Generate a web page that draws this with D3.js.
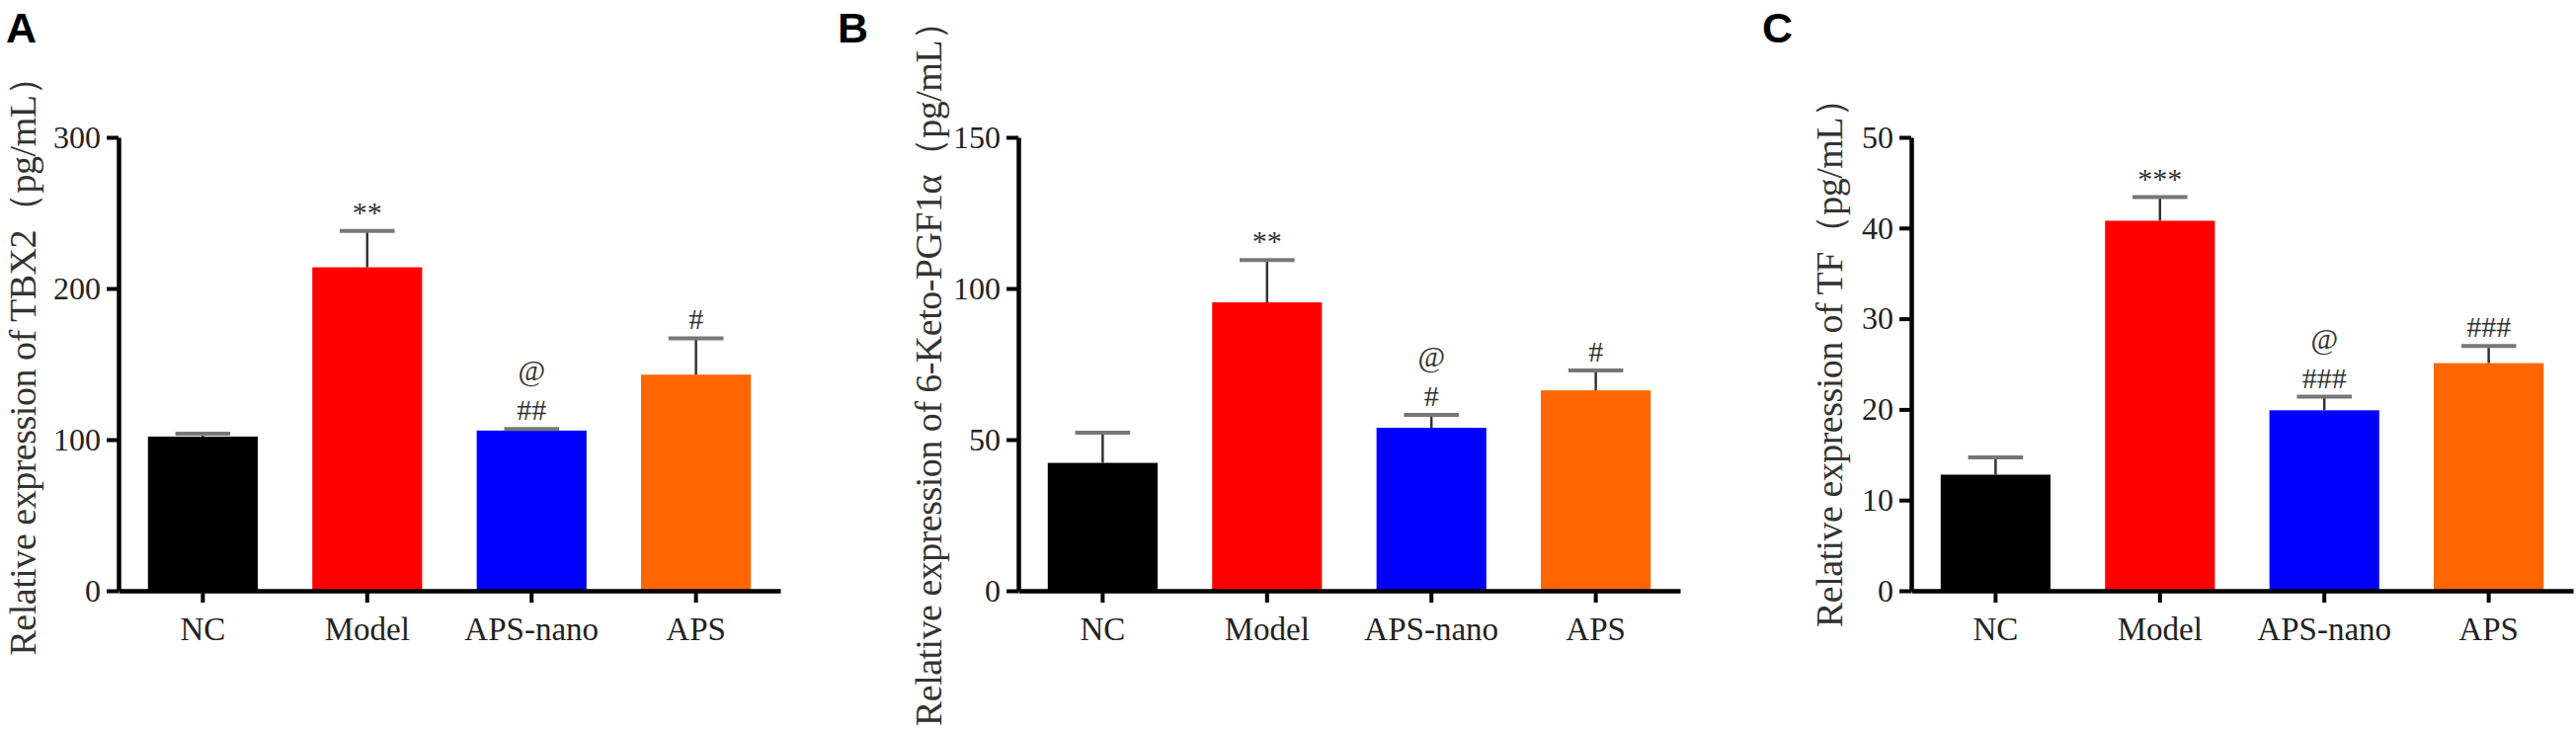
<!DOCTYPE html>
<html><head><meta charset="utf-8">
<script src="https://cdn.jsdelivr.net/npm/d3@7"></script>
<style>body{margin:0;background:#fff;overflow:hidden}</style>
</head><body>
<svg id="chart" width="2608" height="742" xmlns="http://www.w3.org/2000/svg"></svg>
<script>
// ---- data ----
const categories = ["NC", "Model", "APS-nano", "APS"];

const tbx2Mean = [102, 214, 106, 143];
const tbx2Err  = [2, 24, 1, 24];
const tbx2Ticks = [0, 100, 200, 300];
const tbx2Marks = [[], ["**"], ["@", "##"], ["#"]];

const ketoMean = [42.3, 95.4, 53.9, 66.3];
const ketoErr  = [10, 14, 4.3, 6.6];
const ketoTicks = [0, 50, 100, 150];
const ketoMarks = [[], ["**"], ["@", "#"], ["#"]];

const tfMean = [12.8, 40.8, 19.9, 25.1];
const tfErr  = [1.9, 2.6, 1.5, 1.9];
const tfTicks = [0, 10, 20, 30, 40, 50];
const tfMarks = [[], ["***"], ["@", "###"], ["###"]];

const panelLetters = ["A", "B", "C"];
const titles = [
  "Relative expression of TBX2（pg/mL）",
  "Relative expression of 6-Keto-PGF1α（pg/mL）",
  "Relative expression of TF（pg/mL）"
];

// ---- style / layout ----
const barColors = ["#000000", "#ff0000", "#0000ff", "#ff6600"];
const serif = "'Liberation Serif','Times New Roman',serif";
const panels = [
  {mean: tbx2Mean, err: tbx2Err, ticks: tbx2Ticks, marks: tbx2Marks, axisX: 120,  letterX: 6,    titleX: 36,   titleY: 361, titleLen: 605},
  {mean: ketoMean, err: ketoErr, ticks: ketoTicks, marks: ketoMarks, axisX: 1031, letterX: 848,  titleX: 953,  titleY: 369, titleLen: 732},
  {mean: tfMean,   err: tfErr,   ticks: tfTicks,   marks: tfMarks,   axisX: 1935, letterX: 1784, titleX: 1865, titleY: 358, titleLen: 554}
];
const y0px = 598, y1px = 139, axisW = 670;

const svg = d3.select("#chart");

panels.forEach((p, pi) => {
  const g = svg.append("g");
  const yMax = p.ticks[p.ticks.length - 1];
  const y = d3.scaleLinear().domain([0, yMax]).range([y0px, y1px]);
  const x = d3.scaleBand().domain(categories)
    .range([p.axisX, p.axisX + axisW]).paddingInner(0.332).paddingOuter(0.179);

  // bars
  g.selectAll("rect.bar").data(categories).join("rect")
    .attr("class", "bar")
    .attr("x", d => x(d))
    .attr("width", x.bandwidth())
    .attr("y", (d, i) => y(p.mean[i]))
    .attr("height", (d, i) => y(0) - y(p.mean[i]))
    .attr("fill", (d, i) => barColors[i]);

  // error bars
  const eb = g.selectAll("g.eb").data(categories).join("g").attr("class", "eb");
  eb.append("line")
    .attr("x1", d => x(d) + x.bandwidth() / 2)
    .attr("x2", d => x(d) + x.bandwidth() / 2)
    .attr("y1", (d, i) => y(p.mean[i]))
    .attr("y2", (d, i) => y(p.mean[i] + p.err[i]))
    .attr("stroke", "#333").attr("stroke-width", 2.5);
  eb.append("line")
    .attr("x1", d => x(d) + x.bandwidth() / 4)
    .attr("x2", d => x(d) + x.bandwidth() * 3 / 4)
    .attr("y1", (d, i) => y(p.mean[i] + p.err[i]))
    .attr("y2", (d, i) => y(p.mean[i] + p.err[i]))
    .attr("stroke", "#777").attr("stroke-width", 4);

  // significance marks
  categories.forEach((c, i) => {
    const lines = p.marks[i];
    const base = y(p.mean[i] + p.err[i]) - 9;
    lines.forEach((t, li) => {
      g.append("text")
        .attr("x", x(c) + x.bandwidth() / 2)
        .attr("y", base - (lines.length - 1 - li) * 40)
        .attr("text-anchor", "middle")
        .attr("font-family", serif)
        .attr("font-size", 30)
        .attr("fill", "#333")
        .text(t);
    });
  });

  // y axis
  const ya = g.append("g").attr("transform", `translate(${p.axisX},0)`)
    .call(d3.axisLeft(y).tickValues(p.ticks).tickSize(12).tickSizeOuter(0).tickPadding(6));
  ya.select(".domain").attr("stroke", "#000").attr("stroke-width", 4.5);
  ya.selectAll(".tick line").attr("stroke", "#000").attr("stroke-width", 4);
  ya.selectAll(".tick text").attr("font-family", serif).attr("font-size", 32).attr("fill", "#222");

  // x axis
  const xa = g.append("g").attr("transform", `translate(0,${y0px})`)
    .call(d3.axisBottom(x).tickSize(12).tickSizeOuter(0));
  xa.select(".domain").attr("stroke", "#000").attr("stroke-width", 4.5);
  xa.selectAll(".tick line").attr("stroke", "#000").attr("stroke-width", 4);
  xa.selectAll(".tick text").attr("font-family", serif).attr("font-size", 33).attr("fill", "#222")
    .attr("y", 50).attr("dy", 0);

  // y title
  g.append("text")
    .attr("transform", `translate(${p.titleX},${p.titleY}) rotate(-90)`)
    .attr("text-anchor", "middle")
    .attr("font-family", serif)
    .attr("font-size", 38)
    .attr("fill", "#333")
    .attr("textLength", p.titleLen)
    .attr("lengthAdjust", "spacing")
    .text(titles[pi]);

  // panel letter
  svg.append("text")
    .attr("x", p.letterX).attr("y", 43)
    .attr("font-family", "'Liberation Sans',Arial,sans-serif")
    .attr("font-weight", "bold")
    .attr("font-size", 43)
    .attr("fill", "#000")
    .text(panelLetters[pi]);
});
</script>
</body></html>
